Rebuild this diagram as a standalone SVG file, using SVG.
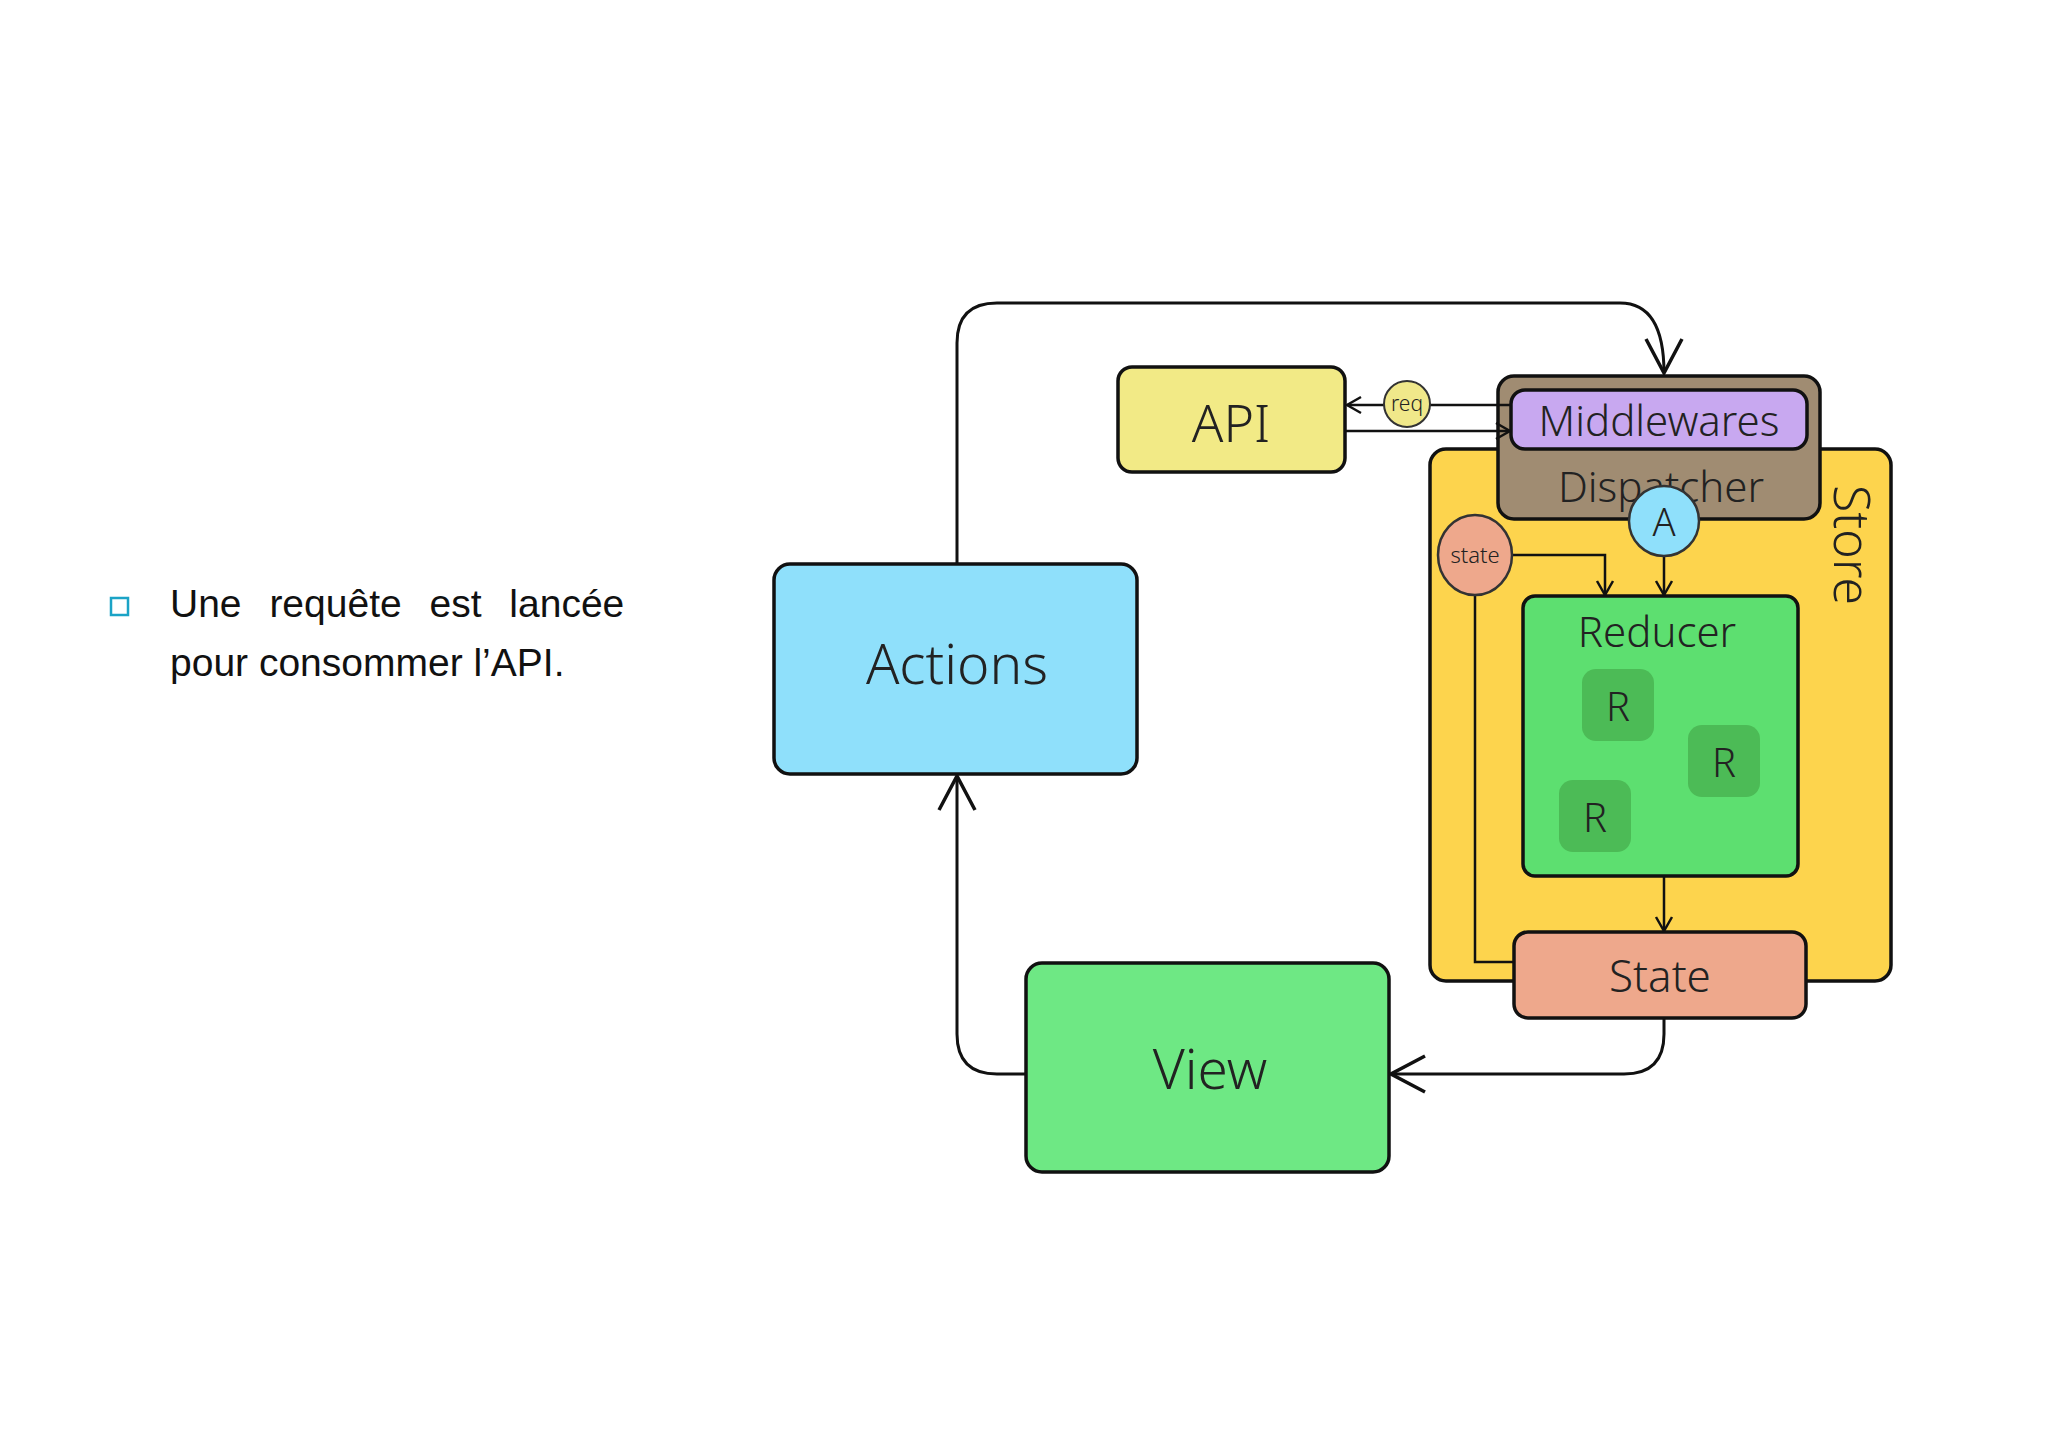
<svg xmlns="http://www.w3.org/2000/svg" width="2048" height="1447" viewBox="0 0 2048 1447">
<defs>
<style>
.b{stroke:#111;stroke-width:3.5}
.t{font-family:"Noto Sans","DejaVu Sans",sans-serif;font-weight:300;fill:#222;text-anchor:middle;dominant-baseline:central}
.c{fill:none;stroke:#111;stroke-width:3}
.cs{fill:none;stroke:#111;stroke-width:2.5}
</style>
<marker id="big" viewBox="0 0 40 40" refX="38" refY="20" markerWidth="40" markerHeight="40" markerUnits="userSpaceOnUse" orient="auto">
<path d="M4 2 L38 20 L4 38" fill="none" stroke="#111" stroke-width="3.5"/>
</marker>
<marker id="sm" viewBox="0 0 20 20" refX="18" refY="10" markerWidth="20" markerHeight="20" markerUnits="userSpaceOnUse" orient="auto">
<path d="M4 2 L18 10 L4 18" fill="none" stroke="#111" stroke-width="2.5"/>
</marker>
</defs>
<rect width="2048" height="1447" fill="#fff"/>
<g id="bullet">
<rect x="111" y="598" width="17" height="17" fill="none" stroke="#1ba3c6" stroke-width="2.5"/>
<text x="170" y="617" font-family="'Liberation Sans',sans-serif" font-size="39" fill="#111" word-spacing="17">Une requête est lancée</text>
<text x="170" y="676" font-family="'Liberation Sans',sans-serif" font-size="39" fill="#111">pour consommer l’API.</text>
</g>
<g id="store"><rect x="1430" y="449" width="461" height="532" rx="16" fill="#fdd44d" class="b"/>
<text class="t" font-size="50" transform="translate(1853,545) rotate(90)">Store</text></g>
<g id="dispatcher"><rect x="1498" y="376" width="322" height="143" rx="16" fill="#a08c72" class="b"/>
<text class="t" x="1661" y="485" font-size="42">Dispatcher</text></g>
<g id="middlewares"><rect x="1511" y="390" width="296" height="59" rx="14" fill="#c8a8f0" class="b"/>
<text class="t" x="1659" y="419" font-size="42">Middlewares</text></g>
<g id="reducer"><rect x="1523" y="596" width="275" height="280" rx="12" fill="#5ddf70" class="b"/>
<text class="t" x="1657" y="630" font-size="42">Reducer</text>
<rect x="1582" y="669" width="72" height="72" rx="14" fill="#4cbb56"/><text class="t" x="1618" y="705" font-size="40">R</text>
<rect x="1688" y="725" width="72" height="72" rx="14" fill="#4cbb56"/><text class="t" x="1724" y="761" font-size="40">R</text>
<rect x="1559" y="780" width="72" height="72" rx="14" fill="#4cbb56"/><text class="t" x="1595" y="816" font-size="40">R</text></g>
<g id="connectors">
<path class="c" d="M957 564 V343 Q957 303 997 303 H1620 Q1664 303 1664 373" marker-end="url(#big)"/>
<path class="c" d="M1664 1018 V1034 Q1664 1074 1624 1074 H1391" marker-end="url(#big)"/>
<path class="c" d="M1026 1074 H997 Q957 1074 957 1034 V776" marker-end="url(#big)"/>
<path class="cs" d="M1511 405 H1347" marker-end="url(#sm)"/>
<path class="cs" d="M1345 431 H1510" marker-end="url(#sm)"/>
<path class="cs" d="M1512 555 H1605 V595" marker-end="url(#sm)"/>
<path class="cs" d="M1664 556 V595" marker-end="url(#sm)"/>
<path class="cs" d="M1664 876 V931" marker-end="url(#sm)"/>
<path class="cs" d="M1475 595 V962 H1514"/>
</g>
<g id="api"><rect x="1118" y="367" width="227" height="105" rx="14" fill="#f2ea86" class="b"/>
<text class="t" x="1231" y="421" font-size="52">API</text></g>
<g id="req"><circle cx="1407" cy="404" r="23" fill="#f0e88a" stroke="#333" stroke-width="2"/>
<text class="t" x="1407" y="403" font-size="21">req</text></g>
<g id="a"><circle cx="1664" cy="521" r="35" fill="#8fe0fb" stroke="#333" stroke-width="2.5"/>
<text class="t" x="1664" y="521" font-size="38">A</text></g>
<g id="statecircle"><ellipse cx="1475" cy="555" rx="37" ry="40" fill="#eea88c" stroke="#333" stroke-width="2.5"/>
<text class="t" x="1475" y="554" font-size="22">state</text></g>
<g id="state"><rect x="1514" y="932" width="292" height="86" rx="14" fill="#eea88c" class="b"/>
<text class="t" x="1660" y="975" font-size="44">State</text></g>
<g id="actions"><rect x="774" y="564" width="363" height="210" rx="16" fill="#8fe0fb" class="b"/>
<text class="t" x="957" y="662" font-size="55">Actions</text></g>
<g id="view"><rect x="1026" y="963" width="363" height="209" rx="16" fill="#6ee884" class="b"/>
<text class="t" x="1210" y="1067" font-size="55">View</text></g>
</svg>
